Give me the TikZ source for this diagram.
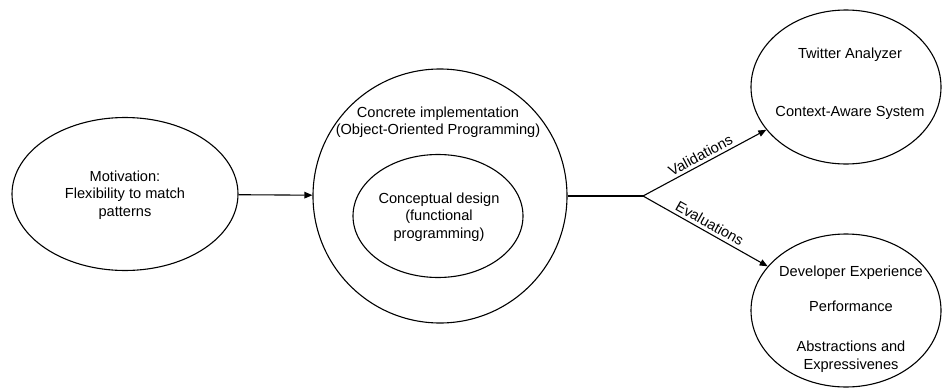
\documentclass[tikz,border=0pt]{standalone}
\usepackage{fontspec}
\setmainfont{Liberation Sans}
\usetikzlibrary{arrows.meta,shapes.geometric}

\begin{document}
\begin{tikzpicture}[x=1pt,y=-1pt,
  every node/.style={font=\fontsize{14.6}{17.5}\selectfont, inner sep=0pt},
  oval/.style={draw, ellipse, line width=1.1pt, inner sep=0pt},
  txt/.style={align=center},
  conn/.style={line width=1.1pt},
  arr/.style={conn, -{Triangle[length=8pt,width=6.5pt]}},
  lbl/.style={midway, sloped, above=3pt}]
\useasboundingbox (0,0) rectangle (942,388);

% motivation
\node[oval, minimum width=226pt, minimum height=153pt] (mot) at (125,194) {};
\node[txt] (motT) at (125,195) {Motivation:\\Flexibility to match\\patterns};

% implementation with nested conceptual design
\node[oval, circle, minimum size=254pt] (impl) at (440,196) {};
\node[txt] (implT) at (438,122) {Concrete implementation\\(Object-Oriented Programming)};
\node[oval, minimum width=170pt, minimum height=123pt] (design) at (438,216) {};
\node[txt] (designT) at (439,217) {Conceptual design\\(functional\\programming)};

% validations and evaluations
\node[oval, minimum width=190pt, minimum height=154pt] (val) at (846,87) {};
\node[txt] (valT) at (850,84) {Twitter Analyzer\\[40.5pt]Context-Aware System};
\node[oval, minimum width=190pt, minimum height=153pt] (eval) at (846,310.5) {};
\node[txt] (evalT) at (851,319) {Developer Experience\\[17pt]Performance\\[23pt]Abstractions and\\Expressivenes};

% connectors
\coordinate (fork) at (643,196);
\draw[arr] (mot) -- (impl);
\draw[conn] (impl.east) -- (fork);
\draw[arr] (fork) -- (val) node[lbl] {Validations};
\draw[arr] (fork) -- (eval) node[lbl] {Evaluations};
\end{tikzpicture}
\end{document}
